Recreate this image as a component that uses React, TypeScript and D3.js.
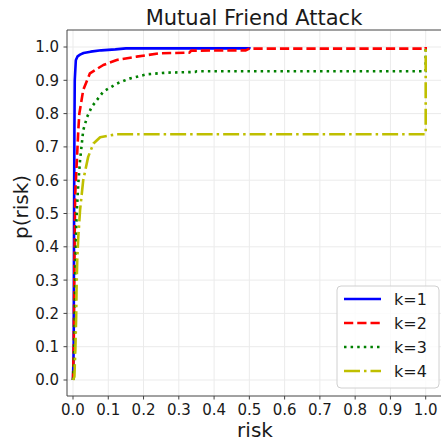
import React from "react";
import * as d3 from "d3";

// Empirical CDF of risk for each anonymity level k
const riskK1 = [0, 0.002, 0.003, 0.004, 0.005, 0.008, 0.013, 0.02, 0.03, 0.05, 0.08, 0.12, 0.15, 0.5, 0.5];
const probK1 = [0, 0.1, 0.45, 0.75, 0.9, 0.96, 0.972, 0.977, 0.982, 0.986, 0.99, 0.993, 0.996, 0.996, 1.0];

const riskK2 = [0, 0.002, 0.004, 0.006, 0.0105, 0.015, 0.018, 0.029, 0.048, 0.086, 0.124, 0.18, 0.245, 0.33, 0.335, 0.49, 0.5, 1.0, 1.0];
const probK2 = [0, 0.1, 0.35, 0.55, 0.65, 0.75, 0.8, 0.871, 0.921, 0.946, 0.961, 0.971, 0.981, 0.983, 0.989, 0.99, 0.995, 0.995, 1.0];

const riskK3 = [0, 0.003, 0.005, 0.0066, 0.01, 0.015, 0.02, 0.029, 0.04, 0.053, 0.086, 0.124, 0.16, 0.209, 0.266, 0.346, 0.35, 1.0, 1.0];
const probK3 = [0, 0.05, 0.2, 0.34, 0.49, 0.59, 0.66, 0.75, 0.79, 0.82, 0.866, 0.89, 0.905, 0.918, 0.923, 0.925, 0.927, 0.927, 1.0];

const riskK4 = [0, 0.004, 0.0066, 0.009, 0.01, 0.012, 0.015, 0.02, 0.029, 0.043, 0.058, 0.077, 0.124, 1.0, 1.0];
const probK4 = [0, 0.01, 0.09, 0.19, 0.27, 0.36, 0.43, 0.51, 0.6, 0.67, 0.71, 0.729, 0.738, 0.738, 1.0];

const seriesLabels = ["k=1", "k=2", "k=3", "k=4"];
const xTicks = [0, 0.1, 0.2, 0.3, 0.4, 0.5, 0.6, 0.7, 0.8, 0.9, 1.0];
const yTicks = [0, 0.1, 0.2, 0.3, 0.4, 0.5, 0.6, 0.7, 0.8, 0.9, 1.0];

const W = 441;
const H = 445;
const plot = { left: 67, top: 30, right: 443, bottom: 396 };
const font = "DejaVu Sans, sans-serif";

const styles = [
  { color: "#0000ff", dash: "none" },
  { color: "#ff0000", dash: "9.25 4" },
  { color: "#008000", dash: "2.5 4.1" },
  { color: "#bfbf00", dash: "16 4 2.5 4" },
];

export default function App() {
  const x = d3.scaleLinear().domain([0, 1]).range([73, 425.7]);
  const y = d3.scaleLinear().domain([0, 1]).range([380, 47]);

  const series = [
    d3.zip(riskK1, probK1),
    d3.zip(riskK2, probK2),
    d3.zip(riskK3, probK3),
    d3.zip(riskK4, probK4),
  ];

  const line = d3
    .line<number[]>()
    .x((d) => x(d[0]))
    .y((d) => y(d[1]));

  const legend = { x: 337, y: 286, w: 102, h: 102 };

  return (
    <svg
      width={W}
      height={H}
      style={{ position: "absolute", left: 0, top: 0, background: "#fff" }}
      fontFamily={font}
    >
      <defs>
        <clipPath id="plotArea">
          <rect x={plot.left} y={plot.top} width={plot.right - plot.left} height={plot.bottom - plot.top} />
        </clipPath>
      </defs>

      {/* grid */}
      <g stroke="#ebebeb" strokeWidth={1}>
        {xTicks.map((t) => (
          <line key={"gx" + t} x1={x(t)} x2={x(t)} y1={plot.top} y2={plot.bottom} />
        ))}
        {yTicks.map((t) => (
          <line key={"gy" + t} x1={plot.left} x2={plot.right} y1={y(t)} y2={y(t)} />
        ))}
      </g>

      {/* curves */}
      <g clipPath="url(#plotArea)" fill="none">
        {series.map((s, i) => (
          <path
            key={seriesLabels[i]}
            d={line(s) || ""}
            stroke={styles[i].color}
            strokeWidth={2.6}
            strokeDasharray={styles[i].dash}
            strokeLinejoin="round"
          />
        ))}
      </g>

      {/* spines */}
      <g stroke="#444" strokeWidth={1} fill="none">
        <line x1={plot.left} x2={plot.left} y1={plot.top} y2={plot.bottom} />
        <line x1={plot.left} x2={plot.right} y1={plot.bottom} y2={plot.bottom} />
        <line x1={plot.left} x2={plot.right} y1={plot.top} y2={plot.top} />
      </g>

      {/* x ticks */}
      <g fill="#1a1a1a" fontSize={15} textAnchor="middle">
        {xTicks.map((t) => (
          <g key={"xt" + t}>
            <line x1={x(t)} x2={x(t)} y1={plot.bottom} y2={plot.bottom + 3.5} stroke="#444" />
            <text x={x(t)} y={415}>
              {t.toFixed(1)}
            </text>
          </g>
        ))}
      </g>

      {/* y ticks */}
      <g fill="#1a1a1a" fontSize={15} textAnchor="end">
        {yTicks.map((t) => (
          <g key={"yt" + t}>
            <line x1={plot.left - 3.5} x2={plot.left} y1={y(t)} y2={y(t)} stroke="#444" />
            <text x={59} y={y(t)} dy="0.36em">
              {t.toFixed(1)}
            </text>
          </g>
        ))}
      </g>

      {/* labels */}
      <text x={254} y={25} fontSize={21} textAnchor="middle" fill="#1a1a1a">
        Mutual Friend Attack
      </text>
      <text x={255} y={437} fontSize={20} textAnchor="middle" fill="#1a1a1a">
        risk
      </text>
      <text
        transform="translate(28,207) rotate(-90)"
        fontSize={20}
        textAnchor="middle"
        fill="#1a1a1a"
      >
        p(risk)
      </text>

      {/* legend */}
      <g>
        <rect
          x={legend.x}
          y={legend.y}
          width={legend.w}
          height={legend.h}
          rx={4}
          fill="#fff"
          fillOpacity={0.8}
          stroke="#d0d0d0"
        />
        {seriesLabels.map((lab, i) => {
          const cy = 299 + i * 24;
          return (
            <g key={"lg" + lab}>
              <line
                x1={344}
                x2={381}
                y1={cy}
                y2={cy}
                stroke={styles[i].color}
                strokeWidth={2.6}
                strokeDasharray={styles[i].dash}
              />
              <text x={394} y={cy} dy="0.36em" fontSize={16} fill="#1a1a1a">
                {lab}
              </text>
            </g>
          );
        })}
      </g>
    </svg>
  );
}
